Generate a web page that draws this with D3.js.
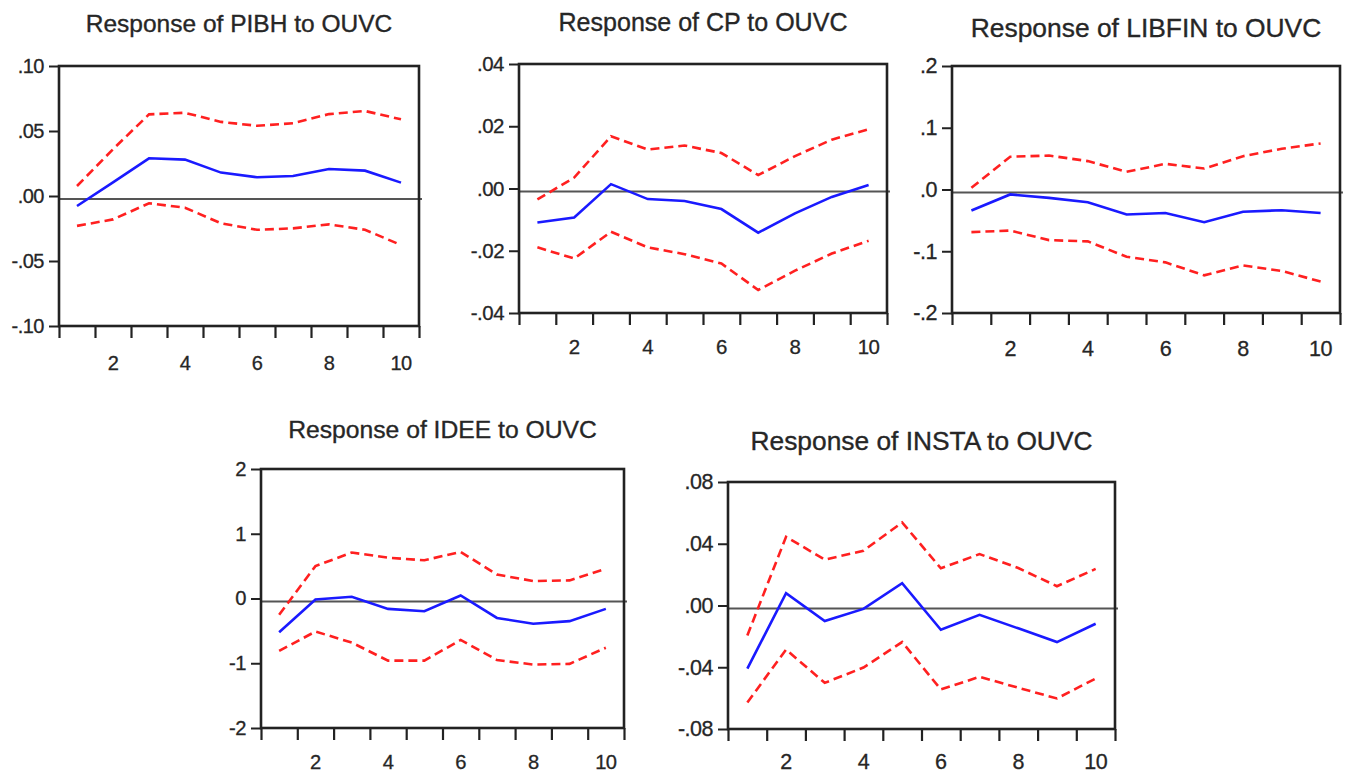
<!DOCTYPE html>
<html>
<head>
<meta charset="utf-8">
<script src="https://cdn.jsdelivr.net/npm/d3@7"></script>
<style>
  html, body { margin: 0; padding: 0; background: #fff; }
  svg { display: block; }
  text { font-family: "Liberation Sans", Arial, sans-serif; fill: #262626; }
</style>
</head>
<body>
<svg id="chart" width="1346" height="775"></svg>
<script>
// ---------------- DATA ----------------
const periods = [1, 2, 3, 4, 5, 6, 7, 8, 9, 10];
const xTickLabels = [2, 4, 6, 8, 10];
const xBoundaryTicks = [0.5, 1.5, 2.5, 3.5, 4.5, 5.5, 6.5, 7.5, 8.5, 9.5, 10.5];

const titles = [
  "Response of PIBH to OUVC",
  "Response of CP to OUVC",
  "Response of LIBFIN to OUVC",
  "Response of IDEE to OUVC",
  "Response of INSTA to OUVC"
];

const pibhTicks = [-0.10, -0.05, 0.00, 0.05, 0.10];
const pibhTickLabels = ["-.10", "-.05", ".00", ".05", ".10"];
const pibhResp  = [-0.0077, 0.0105, 0.0290, 0.0280, 0.0180, 0.0144, 0.0154, 0.0208, 0.0195, 0.0103];
const pibhUpper = [0.0077, 0.0360, 0.0628, 0.0640, 0.0570, 0.0540, 0.0560, 0.0630, 0.0654, 0.0590];
const pibhLower = [-0.0230, -0.0180, -0.0056, -0.0090, -0.0210, -0.0260, -0.0249, -0.0218, -0.0260, -0.0377];

const cpTicks = [-0.04, -0.02, 0.00, 0.02, 0.04];
const cpTickLabels = ["-.04", "-.02", ".00", ".02", ".04"];
const cpResp  = [-0.0109, -0.0093, 0.0014, -0.0034, -0.0040, -0.0066, -0.0142, -0.0080, -0.0027, 0.0011];
const cpUpper = [-0.0035, 0.0035, 0.0168, 0.0125, 0.0138, 0.0114, 0.0043, 0.0104, 0.0157, 0.0190];
const cpLower = [-0.0189, -0.0225, -0.0139, -0.0189, -0.0211, -0.0241, -0.0326, -0.0264, -0.0209, -0.0168];

const libfinTicks = [-0.2, -0.1, 0.0, 0.1, 0.2];
const libfinTickLabels = ["-.2", "-.1", ".0", ".1", ".2"];
const libfinResp  = [-0.034, -0.008, -0.0135, -0.0205, -0.0405, -0.038, -0.053, -0.036, -0.0335, -0.038];
const libfinUpper = [0.0027, 0.053, 0.055, 0.046, 0.0286, 0.0416, 0.034, 0.054, 0.066, 0.0746];
const libfinLower = [-0.069, -0.0665, -0.082, -0.084, -0.109, -0.118, -0.139, -0.123, -0.132, -0.149];

const ideeTicks = [-2, -1, 0, 1, 2];
const ideeTickLabels = ["-2", "-1", "0", "1", "2"];
const ideeResp  = [-0.52, -0.016, 0.026, -0.16, -0.196, 0.047, -0.30, -0.39, -0.35, -0.16];
const ideeUpper = [-0.25, 0.50, 0.71, 0.63, 0.59, 0.72, 0.37, 0.27, 0.28, 0.46];
const ideeLower = [-0.81, -0.51, -0.68, -0.96, -0.96, -0.64, -0.95, -1.02, -1.01, -0.76];

const instaTicks = [-0.08, -0.04, 0.00, 0.04, 0.08];
const instaTickLabels = ["-.08", "-.04", ".00", ".04", ".08"];
const instaResp  = [-0.0409, 0.0080, -0.0101, -0.0022, 0.0144, -0.0157, -0.0060, -0.0148, -0.0237, -0.0118];
const instaUpper = [-0.0194, 0.0445, 0.0297, 0.0355, 0.0538, 0.0241, 0.0333, 0.0243, 0.0125, 0.0237];
const instaLower = [-0.0628, -0.0286, -0.0501, -0.0402, -0.0237, -0.0544, -0.0462, -0.0533, -0.0602, -0.0473];

// ---------------- LAYOUT ----------------
const panels = [
  { title: titles[0], ticks: pibhTicks, tickLabels: pibhTickLabels, resp: pibhResp, upper: pibhUpper, lower: pibhLower,
    box: { l: 59, t: 66, r: 419, b: 326 }, titleY: 32, xLabDy: 44 },
  { title: titles[1], ticks: cpTicks, tickLabels: cpTickLabels, resp: cpResp, upper: cpUpper, lower: cpLower,
    box: { l: 519, t: 64, r: 887, b: 313 }, titleY: 31, xLabDy: 41 },
  { title: titles[2], ticks: libfinTicks, tickLabels: libfinTickLabels, resp: libfinResp, upper: libfinUpper, lower: libfinLower,
    box: { l: 952, t: 66, r: 1340, b: 313 }, titleY: 37, xLabDy: 43 },
  { title: titles[3], ticks: ideeTicks, tickLabels: ideeTickLabels, resp: ideeResp, upper: ideeUpper, lower: ideeLower,
    box: { l: 261, t: 469, r: 624, b: 728 }, titleY: 438, xLabDy: 41 },
  { title: titles[4], ticks: instaTicks, tickLabels: instaTickLabels, resp: instaResp, upper: instaUpper, lower: instaLower,
    box: { l: 728, t: 482, r: 1115, b: 729 }, titleY: 450, xLabDy: 40 }
];

const svg = d3.select("#chart");

panels.forEach(p => {
  const { l, t, r, b } = p.box;
  const scale = (r - l) / 360;
  const titleSize = 24.5 * scale;
  const tickSize = 20 * scale;

  const x = d3.scaleLinear().domain([0.5, 10.5]).range([l, r]);
  const y = d3.scaleLinear().domain([p.ticks[0], p.ticks[p.ticks.length - 1]]).range([b, t]);

  const g = svg.append("g");

  // title
  g.append("text")
    .attr("x", (l + r) / 2)
    .attr("y", p.titleY)
    .attr("text-anchor", "middle")
    .style("font-size", titleSize + "px")
    .attr("stroke", "#262626").attr("stroke-width", 0.35)
    .text(p.title);

  // zero line
  g.append("line")
    .attr("x1", l).attr("x2", r + 3)
    .attr("y1", y(0)).attr("y2", y(0))
    .attr("transform", "translate(0,3)")
    .attr("stroke", "#555").attr("stroke-width", 1.8);

  const line = d3.line()
    .x((d, i) => x(periods[i]))
    .y(d => y(d));

  [p.upper, p.lower].forEach(s => {
    g.append("path")
      .attr("d", line(s))
      .attr("fill", "none")
      .attr("stroke", "#ff2020")
      .attr("stroke-width", 2.6)
      .attr("stroke-dasharray", "9,5");
  });

  g.append("path")
    .attr("d", line(p.resp))
    .attr("fill", "none")
    .attr("stroke", "#1a1aff")
    .attr("stroke-width", 2.6);

  // y axis
  const yAxis = d3.axisLeft(y)
    .tickValues(p.ticks)
    .tickFormat((d, i) => p.tickLabels[i])
    .tickSize(10)
    .tickPadding(5);
  const ya = g.append("g").attr("transform", `translate(${l},0)`).call(yAxis);
  ya.select(".domain").remove();
  ya.selectAll(".tick line").attr("stroke", "#222").attr("stroke-width", 2);
  ya.selectAll(".tick text")
    .style("font-size", tickSize + "px")
    .style("font-family", "'Liberation Sans', Arial, sans-serif")
    .attr("fill", "#262626")
    .attr("stroke", "#262626").attr("stroke-width", 0.3)
    .attr("letter-spacing", "-0.5px");

  // x axis boundary ticks
  const xAxis = d3.axisBottom(x)
    .tickValues(xBoundaryTicks)
    .tickFormat("")
    .tickSize(12);
  const xa = g.append("g").attr("transform", `translate(0,${b})`).call(xAxis);
  xa.select(".domain").remove();
  xa.selectAll(".tick line").attr("stroke", "#222").attr("stroke-width", 2.2);

  // x labels
  g.selectAll("text.xl")
    .data(xTickLabels)
    .enter().append("text")
    .attr("class", "xl")
    .attr("x", d => x(d))
    .attr("y", b + p.xLabDy)
    .attr("text-anchor", "middle")
    .style("font-size", tickSize + "px")
    .attr("stroke", "#262626").attr("stroke-width", 0.3)
    .attr("letter-spacing", "-0.5px")
    .text(d => d);

  // frame
  g.append("rect")
    .attr("x", l).attr("y", t)
    .attr("width", r - l).attr("height", b - t)
    .attr("fill", "none")
    .attr("stroke", "#222")
    .attr("stroke-width", 2.6);
});
</script>
</body>
</html>
